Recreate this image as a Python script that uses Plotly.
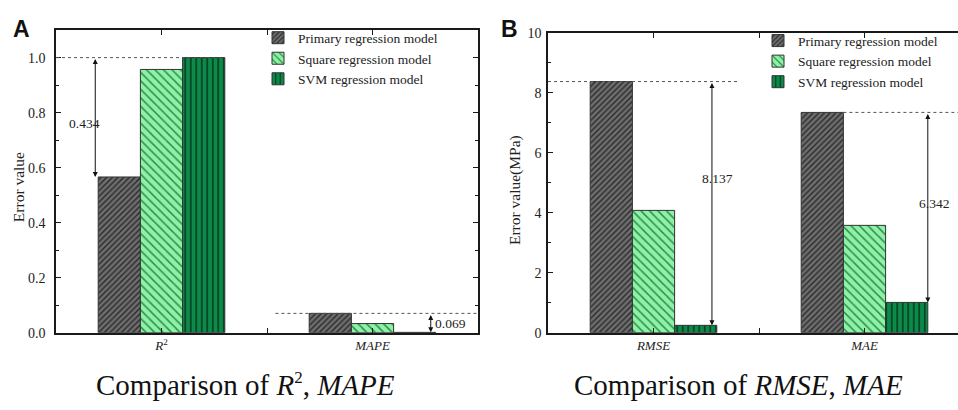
import plotly.graph_objects as go

# ---------------- data ----------------
models = ["Primary regression model", "Square regression model", "SVM regression model"]
cats_a = ["<i>R</i><sup>2</sup>", "<i>MAPE</i>"]
cats_b = ["<i>RMSE</i>", "<i>MAE</i>"]
primary_a = [0.566, 0.070]
square_a = [0.957, 0.033]
svm_a = [1.000, 0.001]
primary_b = [8.380, 7.350]
square_b = [4.080, 3.580]
svm_b = [0.243, 1.008]
yticks_a = [0.0, 0.2, 0.4, 0.6, 0.8, 1.0]
yticks_b = [0, 2, 4, 6, 8, 10]

SERIF = "Liberation Serif"
SANS = "Liberation Sans"
W, H = 958, 410

styles = [
    dict(color="#6e6e6e", shape="/", fg="#2a2a2a", size=4, sol=0.35),
    dict(color="#8ef2a6", shape="\\", fg="#2e8a4c", size=6, sol=0.25),
    dict(color="#0b8a4a", shape="|", fg="#06301a", size=5.5, sol=0.25),
]

fig = go.Figure()
xs = [0, 1]
for i, (name, st) in enumerate(zip(models, styles)):
    vals_a = [primary_a, square_a, svm_a][i]
    vals_b = [primary_b, square_b, svm_b][i]
    for vals, xa, ya, lg in [(vals_a, "x", "y", "legend"), (vals_b, "x2", "y2", "legend2")]:
        fig.add_trace(go.Bar(
            x=xs, y=vals, name=name, xaxis=xa, yaxis=ya, legend=lg,
            marker=dict(color=st["color"], line=dict(color="#333333", width=1),
                        pattern=dict(shape=st["shape"], fgcolor=st["fg"], bgcolor=st["color"],
                                     size=st["size"], solidity=st["sol"], fillmode="replace")),
            hoverinfo="skip"))

def px_x(p):
    return p / W

def px_y(p):
    return (H - p) / H

axis_common = dict(showline=True, linecolor="#1a1a1a", linewidth=1.5, ticks="inside",
                   tickcolor="#1a1a1a", ticklen=5, tickwidth=1.3, showgrid=False, zeroline=False,
                   tickfont=dict(family=SERIF, size=14, color="#222"))

xa_common = dict(axis_common, tickmode="array", tickvals=[0, 0.5, 1], mirror="ticks",
                 tickfont=dict(family=SERIF, size=13, color="#222"))

fig.update_layout(
    width=W, height=H, margin=dict(l=0, r=0, t=0, b=0),
    paper_bgcolor="white", plot_bgcolor="white",
    barmode="group", bargap=0.4, bargroupgap=0,
    xaxis=dict(xa_common, domain=[px_x(56), px_x(478)], range=[-0.5, 1.5],
               ticktext=[cats_a[0], "", cats_a[1]], anchor="y"),
    yaxis=dict(axis_common, domain=[px_y(338), px_y(24)], range=[0, 1.1], mirror="ticks",
               tickvals=yticks_a, ticktext=[f"{v:.1f}" for v in yticks_a], anchor="x",
               ticklabelstandoff=6,
               minor=dict(ticks="inside", dtick=0.1, ticklen=3, tickcolor="#1a1a1a", tickwidth=1.3)),
    xaxis2=dict(xa_common, domain=[px_x(548), 1.0], range=[-0.5, -0.5 + 410 / 211],
                ticktext=[cats_b[0], "", cats_b[1]], anchor="y2"),
    yaxis2=dict(axis_common, domain=[px_y(338), px_y(27)], range=[0, 10], mirror=False,
                tickvals=yticks_b, ticktext=[str(v) for v in yticks_b], anchor="x2",
                ticklabelstandoff=2,
                minor=dict(ticks="inside", dtick=1, ticklen=3, tickcolor="#1a1a1a", tickwidth=1.3)),
    legend=dict(x=px_x(258), y=px_y(16), xanchor="left", yanchor="top",
                bgcolor="rgba(0,0,0,0)", font=dict(family=SERIF, size=13.5, color="#222"),
                tracegroupgap=0, traceorder="normal"),
    legend2=dict(x=px_x(758), y=px_y(19), xanchor="left", yanchor="top",
                 bgcolor="rgba(0,0,0,0)", font=dict(family=SERIF, size=13.5, color="#222"),
                 tracegroupgap=0, traceorder="normal"),
)

# reference dotted lines
dot = dict(color="#555555", width=1, dash="dot")
fig.add_shape(type="line", xref="x", yref="y", x0=-0.5, x1=0.3, y0=svm_a[0], y1=svm_a[0], line=dot)
fig.add_shape(type="line", xref="x", yref="y", x0=0.54, x1=1.5, y0=primary_a[1], y1=primary_a[1], line=dot)
fig.add_shape(type="line", xref="x2", yref="y2", x0=-0.5, x1=0.4, y0=primary_b[0], y1=primary_b[0], line=dot)
fig.add_shape(type="line", xref="x2", yref="y2", x0=0.9, x1=1.45, y0=primary_b[1], y1=primary_b[1], line=dot)

# difference arrows
def arrow(xref, yref, xpos, top, bottom):
    fig.add_annotation(xref=xref, yref=yref, axref=xref, ayref=yref, x=xpos, y=bottom,
                       ax=xpos, ay=top, text="", showarrow=True, arrowhead=2, arrowside="end+start",
                       arrowsize=1, arrowwidth=1, arrowcolor="#111")

def label(xref, yref, xpos, ypos, text):
    fig.add_annotation(xref=xref, yref=yref, x=xpos, y=ypos, text=text, showarrow=False,
                       xanchor="center", yanchor="middle",
                       font=dict(family=SERIF, size=13.5, color="#222"))

d_r2 = svm_a[0] - primary_a[0]
d_mape = primary_a[1] - svm_a[1]
d_rmse = primary_b[0] - svm_b[0]
d_mae = primary_b[1] - svm_b[1]

arrow("x", "y", -0.314, svm_a[0], primary_a[0])
label("x", "y", -0.365, 0.761, f"{d_r2:.3f}")
arrow("x", "y", 1.276, primary_a[1], svm_a[1])
label("x", "y", 1.37, 0.035, f"{d_mape:.3f}")
arrow("x2", "y2", 0.277, primary_b[0], svm_b[0])
label("x2", "y2", 0.305, 5.14, f"{d_rmse:.3f}")
arrow("x2", "y2", 1.30, primary_b[1], svm_b[1])
label("x2", "y2", 1.33, 4.31, f"{d_mae:.3f}")

def paper_text(xp, yp, text, size, family=SERIF, color="#222", angle=0):
    fig.add_annotation(xref="paper", yref="paper", x=px_x(xp), y=px_y(yp), text=text,
                       textangle=angle, showarrow=False, xanchor="center", yanchor="middle",
                       font=dict(family=family, size=size, color=color))

# axis titles
paper_text(18, 187, "Error value", 15.5, angle=-90)
paper_text(515, 190, "Error value(MPa)", 15.5, angle=-90)

# panel letters
paper_text(21, 23, "<b>A</b>", 23, family=SANS, color="#111")
paper_text(510, 23, "<b>B</b>", 23, family=SANS, color="#111")

# captions
paper_text(245, 392,
           "Comparison of <i>R</i><sup><span style='font-size:17px'>2</span></sup>, <i>MAPE</i>",
           29, color="#111")
paper_text(738, 392, "Comparison of <i>RMSE</i>, <i>MAE</i>", 29, color="#111")

fig.write_html("out.html")
